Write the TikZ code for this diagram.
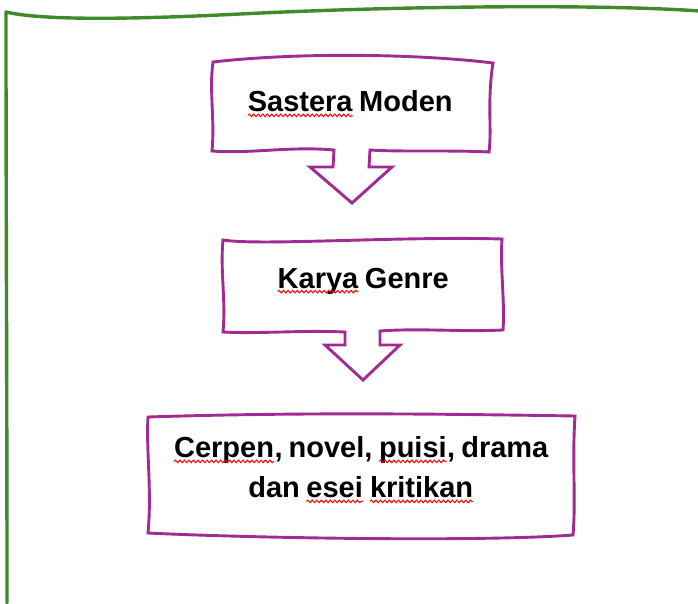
\documentclass[tikz,border=0pt]{standalone}
\usepackage{fontspec}
\setmainfont{Liberation Sans}
\usetikzlibrary{decorations.pathmorphing}
\definecolor{frameGreen}{HTML}{3F8A2A}
\definecolor{boxPurple}{HTML}{A02B93}
\newcommand\wavyword[1]{\tikz[baseline=(w.base)]{\node[inner sep=0pt,outer sep=0pt] (w) {#1};\draw[red,line width=1pt,decorate,decoration={snake,amplitude=1.3pt,segment length=4.5pt}] ([yshift=-3.5pt]w.base west) -- ([yshift=-3.5pt]w.base east);}}
\newcommand\tightspace{\spaceskip=0.21em plus 0.05em\relax}
\tikzset{
  frameline/.style={draw=frameGreen,line width=3.4pt,line cap=round,line join=round},
  calloutline/.style={draw=boxPurple,line width=2.9pt,line join=miter,fill=white},
  label/.style={font=\bfseries\fontsize{29}{40}\selectfont\tightspace,align=center,inner sep=0pt,text=black}
}
\begin{document}
\begin{tikzpicture}[x=1pt,y=-1pt]
\useasboundingbox (0,0) rectangle (698,603);
\fill[white] (0,0) rectangle (698,603);
% green frame
\draw[frameline] (7,603) .. controls (7,400) and (6,200) .. (6,12)
  .. controls (40,20) and (120,20) .. (240,14)
  .. controls (400,6) and (600,4) .. (700,11);
% box 1
\draw[calloutline] (213,62) .. controls (300,52) and (420,54) .. (493,63)
  .. controls (487,100) and (492,130) .. (489,152)
  .. controls (450,150) and (400,152) .. (370,150)
  -- (369,167) -- (392,167) -- (352,203) -- (310,167) -- (333,167) -- (334,150)
  .. controls (290,146) and (250,154) .. (212,151)
  .. controls (215,120) and (209,90) .. cycle;
% box 2
\draw[calloutline] (223,240) .. controls (260,246) and (400,236) .. (502,239)
  .. controls (500,270) and (505,300) .. (503,330)
  .. controls (460,332) and (420,328) .. (380,331)
  -- (380,345) -- (400,345) -- (363,380) -- (325,345) -- (345,345) -- (345,332)
  .. controls (300,330) and (260,334) .. (223,332)
  .. controls (226,300) and (220,270) .. cycle;
% box 3
\draw[calloutline] (148,417) .. controls (300,412) and (450,414) .. (575,416)
  .. controls (572,460) and (576,500) .. (573,535)
  .. controls (480,542) and (250,538) .. (148,533)
  .. controls (152,490) and (146,450) .. cycle;
% texts
\node[label] (t1) at (350,104) {\wavyword{Sastera} Moden};
\node[label] (t2) at (363,281) {\wavyword{Karya} Genre};
\node[label] (t3) at (361,470) {\wavyword{Cerpen}, novel, \wavyword{puisi}, drama\\dan \wavyword{esei} \wavyword{kritikan}};
\end{tikzpicture}
\end{document}
